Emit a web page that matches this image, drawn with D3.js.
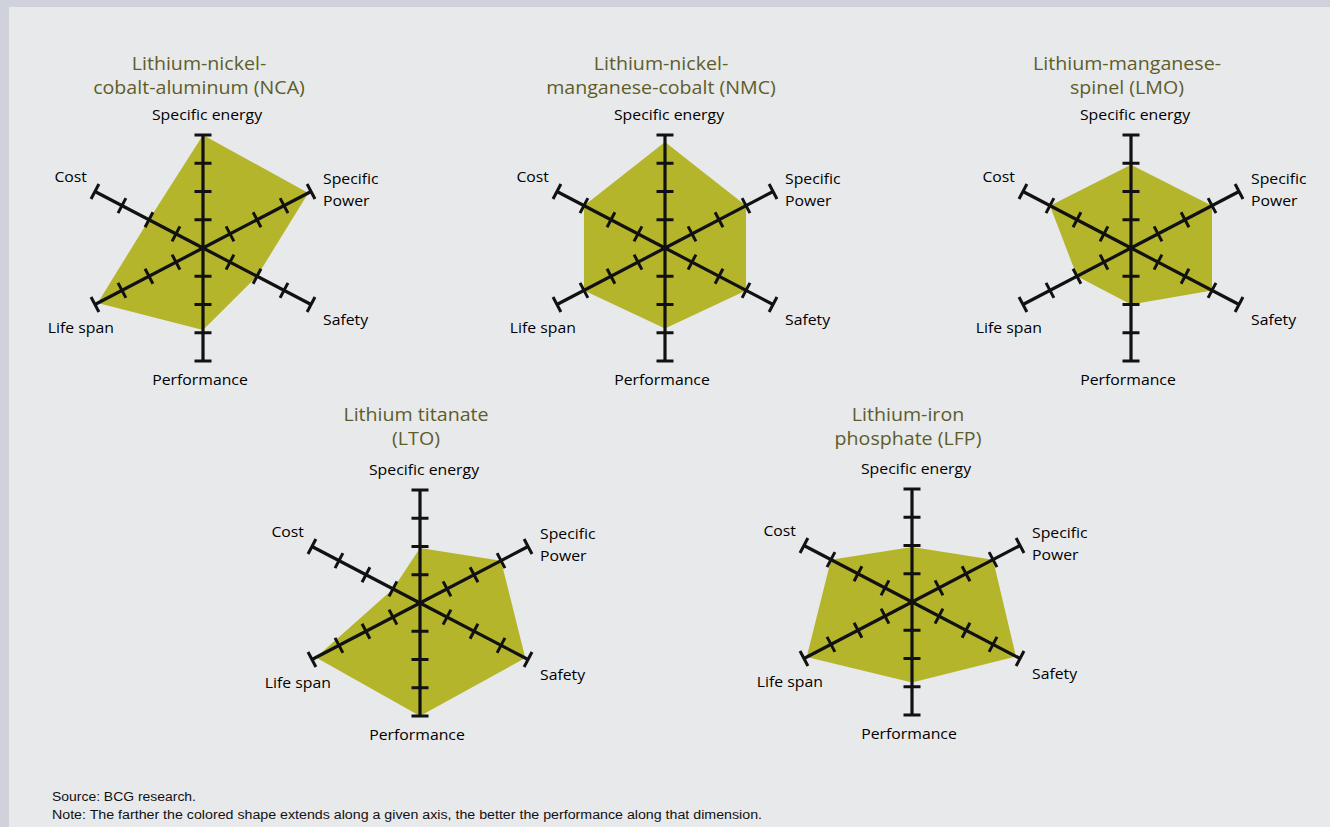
<!DOCTYPE html>
<html>
<head>
<meta charset="utf-8">
<script src="https://cdn.jsdelivr.net/npm/d3@7/dist/d3.min.js"></script>
<style>
  html, body { margin: 0; padding: 0; background: #cfd2da; }
  svg { display: block; }
</style>
</head>
<body>
<svg id="chart" width="1330" height="827"></svg>
<script>
// ---- Data ----
const axisLabels = ["Specific energy", "Specific Power", "Safety", "Performance", "Life span", "Cost"];
const chemistryTitles = [
  ["Lithium-nickel-", "cobalt-aluminum (NCA)"],
  ["Lithium-nickel-", "manganese-cobalt (NMC)"],
  ["Lithium-manganese-", "spinel (LMO)"],
  ["Lithium titanate", "(LTO)"],
  ["Lithium-iron", "phosphate (LFP)"]
];
// order: Specific energy, Specific power, Safety, Performance, Life span, Cost
const ncaValues = [4, 3.9, 2, 2.9, 3.9, 2];
const nmcValues = [3.75, 3, 3, 2.85, 3, 3];
const lmoValues = [2.95, 3, 3, 2, 2, 3];
const ltoValues = [1.95, 3, 3.9, 4, 3.85, 1];
const lfpValues = [1.95, 3, 3.85, 2.85, 3.9, 3];
const scaleTicks = [1, 2, 3];
const scaleMax = 4;
const sourceText = "Source: BCG research.";
const noteText = "Note: The farther the colored shape extends along a given axis, the better the performance along that dimension.";

// ---- Layout ----
const svg = d3.select("#chart");
svg.append("rect").attr("x", 9).attr("y", 7).attr("width", 1321).attr("height", 820).attr("fill", "#e8e9eb");

const panels = [
  {cx: 203, cy: 248, values: ncaValues, title: chemistryTitles[0], ty: 70},
  {cx: 665, cy: 248, values: nmcValues, title: chemistryTitles[1], ty: 70},
  {cx: 1131, cy: 248, values: lmoValues, title: chemistryTitles[2], ty: 70},
  {cx: 420, cy: 603, values: ltoValues, title: chemistryTitles[3], ty: 421},
  {cx: 912, cy: 602, values: lfpValues, title: chemistryTitles[4], ty: 421}
];

const r = d3.scaleLinear().domain([0, scaleMax]).range([0, 113]);
const xStretch = 1.104;
const angle = d3.scaleLinear().domain([0, axisLabels.length]).range([0, 2 * Math.PI]);

function pt(i, v) {
  const a = angle(i);
  return [Math.sin(a) * r(v) * xStretch, -Math.cos(a) * r(v)];
}

const labelFont = "'Open Sans', 'Noto Sans', sans-serif";

function stretchedText(parent, x, y, txt, anchor, size, fill) {
  parent.append("g")
    .attr("transform", `translate(${x},${y}) scale(1.09,1)`)
    .append("text")
    .attr("text-anchor", anchor)
    .attr("font-family", labelFont)
    .attr("font-size", size)
    .attr("fill", fill)
    .text(txt);
}

// label placement per axis (relative to centre)
const labelPos = [
  {x: 4, y: [-128], anchor: "middle"},
  {x: 120, y: [-64, -42], anchor: "start"},
  {x: 120, y: [77], anchor: "start"},
  {x: -3, y: [137], anchor: "middle"},
  {x: -89, y: [85], anchor: "end"},
  {x: -116, y: [-66], anchor: "end"}
];

panels.forEach(p => {
  const g = svg.append("g").attr("transform", `translate(${p.cx},${p.cy})`);

  // polygon
  const line = d3.line().curve(d3.curveLinearClosed);
  g.append("path")
    .attr("d", line(p.values.map((v, i) => pt(i, v))))
    .attr("fill", "#b5b52c");

  // axes
  axisLabels.forEach((lab, i) => {
    const end = pt(i, scaleMax);
    g.append("line")
      .attr("x1", 0).attr("y1", 0).attr("x2", end[0]).attr("y2", end[1])
      .attr("stroke", "#111").attr("stroke-width", 3.2);
    const len = Math.hypot(end[0], end[1]);
    const ux = end[0] / len, uy = end[1] / len;
    const px = -uy, py = ux;
    scaleTicks.concat([scaleMax]).forEach(t => {
      const c = pt(i, t);
      const h = 8.5;
      g.append("line")
        .attr("x1", c[0] - px * h).attr("y1", c[1] - py * h)
        .attr("x2", c[0] + px * h).attr("y2", c[1] + py * h)
        .attr("stroke", "#111").attr("stroke-width", 3);
    });

    // label
    const lp = labelPos[i];
    const parts = lab === "Specific Power" ? ["Specific", "Power"] : [lab];
    parts.forEach((txt, k) => {
      stretchedText(g, lp.x, lp.y[k], txt, lp.anchor, 14.5, "#000");
    });
  });

  // title
  p.title.forEach((txt, k) => {
    stretchedText(svg, p.cx - 4, p.ty + k * 24, txt, "middle", 18, "#5e5d2a");
  });
});

// footer
svg.append("text").attr("x", 52).attr("y", 801)
  .attr("font-family", "'Liberation Sans', Arial, sans-serif").attr("font-size", 12)
  .attr("fill", "#111").attr("textLength", 144).attr("lengthAdjust", "spacingAndGlyphs")
  .text(sourceText);
svg.append("text").attr("x", 52).attr("y", 819)
  .attr("font-family", "'Liberation Sans', Arial, sans-serif").attr("font-size", 12)
  .attr("fill", "#111").attr("textLength", 710).attr("lengthAdjust", "spacingAndGlyphs")
  .text(noteText);
</script>
</body>
</html>
